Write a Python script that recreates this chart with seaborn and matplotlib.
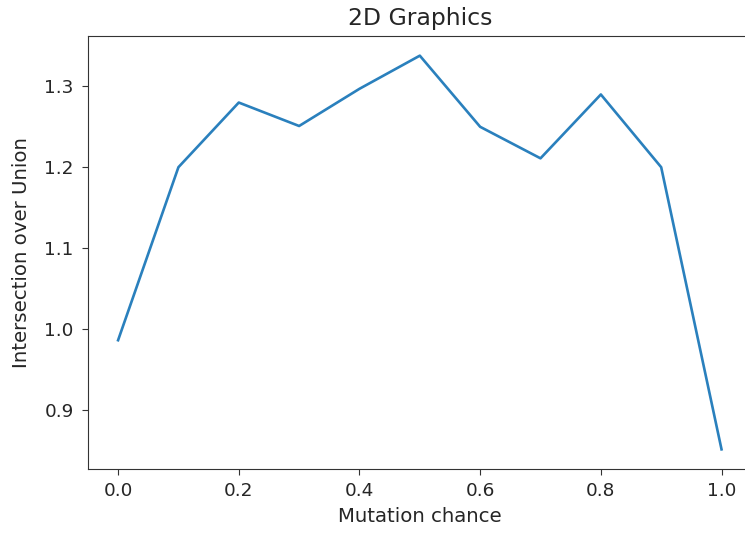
import matplotlib
matplotlib.use("Agg")
import matplotlib.pyplot as plt
import pandas as pd
import seaborn as sns

# Values
mutation_chance = [0.0, 0.1, 0.2, 0.3, 0.4, 0.5, 0.6, 0.7, 0.8, 0.9, 1.0]
iou = [0.986, 1.200, 1.280, 1.251, 1.297, 1.338, 1.250, 1.211, 1.290, 1.200, 0.851]

df = pd.DataFrame({"Mutation chance": mutation_chance,
                   "Intersection over Union": iou})

text_color = "#262626"
plt.rcParams.update({
    "font.size": 13.3,
    "text.color": text_color,
    "axes.labelcolor": text_color,
    "xtick.color": "#333333",
    "ytick.color": "#333333",
    "xtick.labelcolor": text_color,
    "ytick.labelcolor": text_color,
    "xtick.major.size": 4.3,
    "ytick.major.size": 4.3,
    "xtick.major.pad": 5.0,
    "ytick.major.pad": 6.0,
    "axes.edgecolor": "#333333",
})
fig = plt.figure(figsize=(7.45, 5.33), dpi=100)
# the right spine sits just past the image edge, as in the reference
ax = fig.add_axes([0.118, 0.120, 0.891, 0.8125])

sns.lineplot(data=df, x="Mutation chance", y="Intersection over Union",
             color="#2a80bd", linewidth=1.9, ax=ax)

ax.set_title("2D Graphics", fontsize=16.9, pad=8)
ax.set_xlabel("Mutation chance", fontsize=14.2)
ax.set_ylabel("Intersection over Union", fontsize=14.2)
ax.xaxis.set_label_coords(0.5, -0.088)
ax.yaxis.set_label_coords(-0.086, 0.5)
ax.set_xticks([0.0, 0.2, 0.4, 0.6, 0.8, 1.0])
ax.set_yticks([0.9, 1.0, 1.1, 1.2, 1.3])

fig.savefig("out.png", dpi=100)
